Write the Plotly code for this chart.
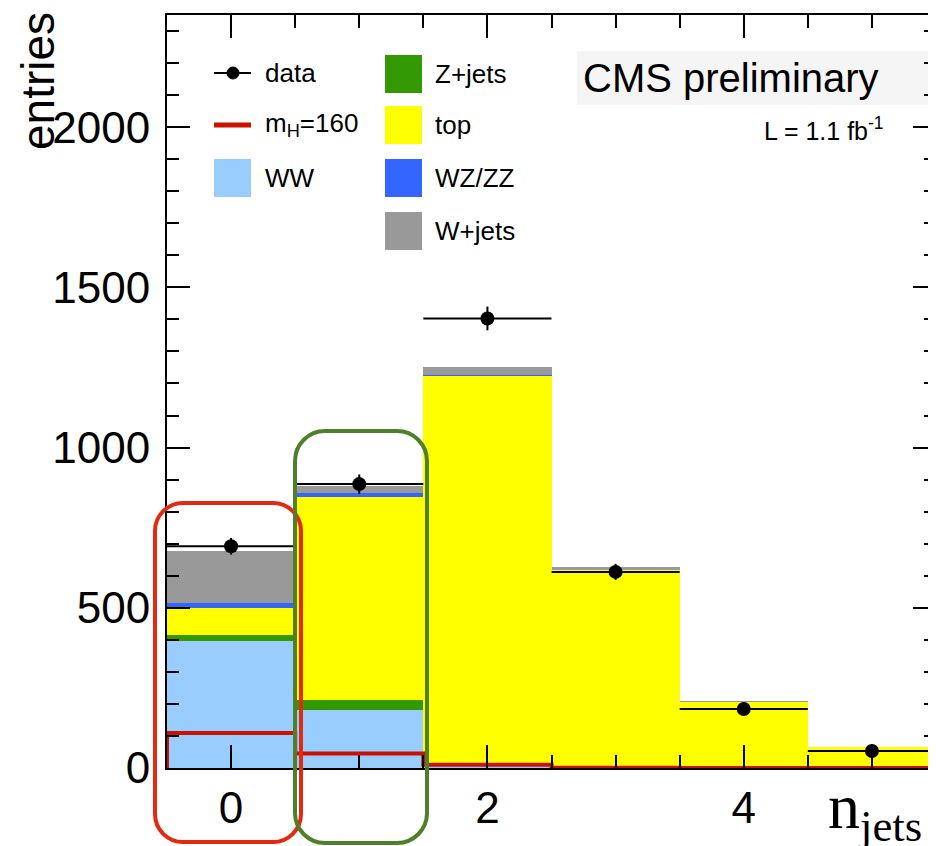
import plotly.graph_objects as go

# ---------------- data ----------------
njets = [0, 1, 2, 3, 4, 5]
ww = [397, 181, 8, 2, 1, 0]
zjets = [19, 31, 3, 1, 0, 0]
top = [84, 635, 1214, 616, 205, 66]
wzzz = [16, 12, 3, 1, 0, 0]
wjets = [162, 22, 22, 6, 1, 0]
data = [692, 886, 1403, 612, 184, 53]
data_err = [26, 30, 37, 25, 14, 7]
signal_mh160 = [109, 45, 10, 1, 0.3, 0.1]

y_ticks = [0, 500, 1000, 1500, 2000]
x_ticks = [0, 2, 4]

# ---------------- geometry ----------------
# the page body has an 8px margin, so the figure is placed at (8, 8) in the window
OFF = 8
SL, ST, SR, SB = 167, 15, 936, 768          # plot area in window pixels
W, H = 936 - OFF, 846 - OFF
L, T = SL - OFF, ST - OFF
R = W - (SR - OFF)
B = H - (SB - OFF)
PW, PH = SR - SL, SB - ST

def px(x):
    return (x - SL) / PW

def py(y):
    return (SB - y) / PH

FONT = "Liberation Sans, Arial, Helvetica, sans-serif"

c_ww = "#99ccff"
c_z = "#339900"
c_top = "#ffff00"
c_wz = "#3366ff"
c_wj = "#999999"
c_sig = "#cc1100"

fig = go.Figure()
for name, vals, col in [("WW", ww, c_ww), ("Z+jets", zjets, c_z), ("top", top, c_top),
                        ("WZ/ZZ", wzzz, c_wz), ("W+jets", wjets, c_wj)]:
    fig.add_trace(go.Bar(x=njets, y=vals, width=1, name=name, marker_color=col,
                         marker_line_width=0, showlegend=False))

edges = [c - 0.5 for c in njets] + [njets[-1] + 0.5]
fig.add_trace(go.Scatter(x=edges, y=[0] + signal_mh160, mode="lines", line_shape="vh",
                         line=dict(color=c_sig, width=4), showlegend=False))

fig.add_trace(go.Scatter(x=njets, y=data, mode="markers", showlegend=False,
                         marker=dict(color="black", size=14),
                         error_y=dict(type="data", array=data_err, thickness=2, width=0, color="black"),
                         error_x=dict(type="constant", value=0.5, thickness=2, width=0, color="black")))

fig.add_trace(go.Scatter(x=[None], y=[None], yaxis="y2", showlegend=False))

shapes = []
annotations = []

# CMS box
shapes.append(dict(type="rect", xref="paper", yref="paper", x0=px(577), x1=px(928), y0=py(105), y1=py(51),
                   fillcolor="#f5f5f5", line_width=0, layer="below"))
annotations.append(dict(text="CMS preliminary", xref="paper", yref="paper", x=px(581), y=py(78),
                        xanchor="left", yanchor="middle", showarrow=False,
                        font=dict(family=FONT, size=40, color="black")))
annotations.append(dict(text="L = 1.1 fb<sup>-1</sup>", xref="paper", yref="paper", x=px(886), y=py(129),
                        xanchor="right", yanchor="middle", showarrow=False,
                        font=dict(family=FONT, size=25, color="black")))

# legend (manual)
LEG_FONT = dict(family=FONT, size=26, color="black")
shapes.append(dict(type="line", xref="paper", yref="paper", x0=px(214), x1=px(251), y0=py(73), y1=py(73),
                   line=dict(color="black", width=2)))
shapes.append(dict(type="circle", xref="paper", yref="paper", x0=px(227), x1=px(239), y0=py(79), y1=py(67),
                   fillcolor="black", line=dict(color="black", width=1)))
annotations.append(dict(text="data", xref="paper", yref="paper", x=px(263), y=py(73), xanchor="left",
                        yanchor="middle", showarrow=False, font=LEG_FONT))
shapes.append(dict(type="line", xref="paper", yref="paper", x0=px(214), x1=px(251), y0=py(125), y1=py(125),
                   line=dict(color=c_sig, width=5)))
annotations.append(dict(text="m<sub>H</sub>=160", xref="paper", yref="paper", x=px(263), y=py(125),
                        xanchor="left", yanchor="middle", showarrow=False, font=LEG_FONT))
shapes.append(dict(type="rect", xref="paper", yref="paper", x0=px(214), x1=px(251), y0=py(197), y1=py(159),
                   fillcolor=c_ww, line_width=0))
annotations.append(dict(text="WW", xref="paper", yref="paper", x=px(263), y=py(178), xanchor="left",
                        yanchor="middle", showarrow=False, font=LEG_FONT))
for name, col, yc in [("Z+jets", c_z, 74), ("top", c_top, 125), ("WZ/ZZ", c_wz, 178), ("W+jets", c_wj, 231)]:
    shapes.append(dict(type="rect", xref="paper", yref="paper", x0=px(385), x1=px(422), y0=py(yc + 19),
                       y1=py(yc - 19), fillcolor=col, line_width=0))
    annotations.append(dict(text=name, xref="paper", yref="paper", x=px(433), y=py(yc), xanchor="left",
                            yanchor="middle", showarrow=False, font=LEG_FONT))

# axis titles
annotations.append(dict(text="entries", xref="paper", yref="paper", x=px(38), y=py(81), textangle=-90,
                        xanchor="center", yanchor="middle", showarrow=False,
                        font=dict(family=FONT, size=46, color="black")))
annotations.append(dict(text="n<sub>jets</sub>", xref="paper", yref="paper", x=px(826), y=py(811),
                        xanchor="left", yanchor="middle", showarrow=False,
                        font=dict(family="Liberation Serif, Times New Roman, serif", size=64, color="black")))

# rounded highlight boxes
def rounded(x0, y0, x1, y1, r):
    k = 0.5523 * r
    pts = [("M", [(x0 + r, y0)]), ("L", [(x1 - r, y0)]),
           ("C", [(x1 - r + k, y0), (x1, y0 + r - k), (x1, y0 + r)]),
           ("L", [(x1, y1 - r)]),
           ("C", [(x1, y1 - r + k), (x1 - r + k, y1), (x1 - r, y1)]),
           ("L", [(x0 + r, y1)]),
           ("C", [(x0 + r - k, y1), (x0, y1 - r + k), (x0, y1 - r)]),
           ("L", [(x0, y0 + r)]),
           ("C", [(x0, y0 + r - k), (x0 + r - k, y0), (x0 + r, y0)])]
    s = ""
    for cmd, ps in pts:
        s += cmd + " " + " ".join(f"{px(a):.5f},{py(b):.5f}" for a, b in ps) + " "
    return s + "Z"

shapes.append(dict(type="path", xref="paper", yref="paper", path=rounded(155, 503, 301, 842, 28),
                   line=dict(color="#e32a0e", width=4), layer="above"))
shapes.append(dict(type="path", xref="paper", yref="paper", path=rounded(295, 431, 427, 843, 30),
                   line=dict(color="#4f7f2a", width=4), layer="above"))

fig.update_layout(
    width=W, height=H, margin=dict(l=L, r=R, t=T, b=B, pad=0),
    paper_bgcolor="white", plot_bgcolor="white",
    barmode="stack", bargap=0,
    showlegend=False,
    shapes=shapes, annotations=annotations,
    xaxis=dict(range=[-0.5, 5.5], tickvals=x_ticks, ticktext=[str(v) for v in x_ticks],
               ticks="inside", ticklen=23, tickwidth=2, tickcolor="black",
               showline=True, linecolor="black", linewidth=2, mirror="ticks",
               showgrid=False, zeroline=False, ticklabelstandoff=0,
               tickfont=dict(family=FONT, size=44, color="black"),
               minor=dict(dtick=0.5, tick0=0, ticks="inside", ticklen=13, tickwidth=2, tickcolor="black")),
    yaxis=dict(range=[0, 2350], tickvals=y_ticks, ticks="inside", ticklen=23, tickwidth=2, tickcolor="black",
               showline=True, linecolor="black", linewidth=2, mirror=False,
               showgrid=False, zeroline=False, ticklabelstandoff=6,
               tickfont=dict(family=FONT, size=44, color="black"),
               minor=dict(dtick=100, tick0=0, ticks="inside", ticklen=12, tickwidth=2, tickcolor="black")),
    yaxis2=dict(overlaying="y", side="right", anchor="x", range=[0, 2350], tickvals=y_ticks,
                ticks="inside", ticklen=23, tickwidth=2, tickcolor="black",
                showline=False, showgrid=False, zeroline=False, showticklabels=False,
                minor=dict(dtick=100, tick0=0, ticks="inside", ticklen=12, tickwidth=2, tickcolor="black")),
)

fig.write_html("out.html")
